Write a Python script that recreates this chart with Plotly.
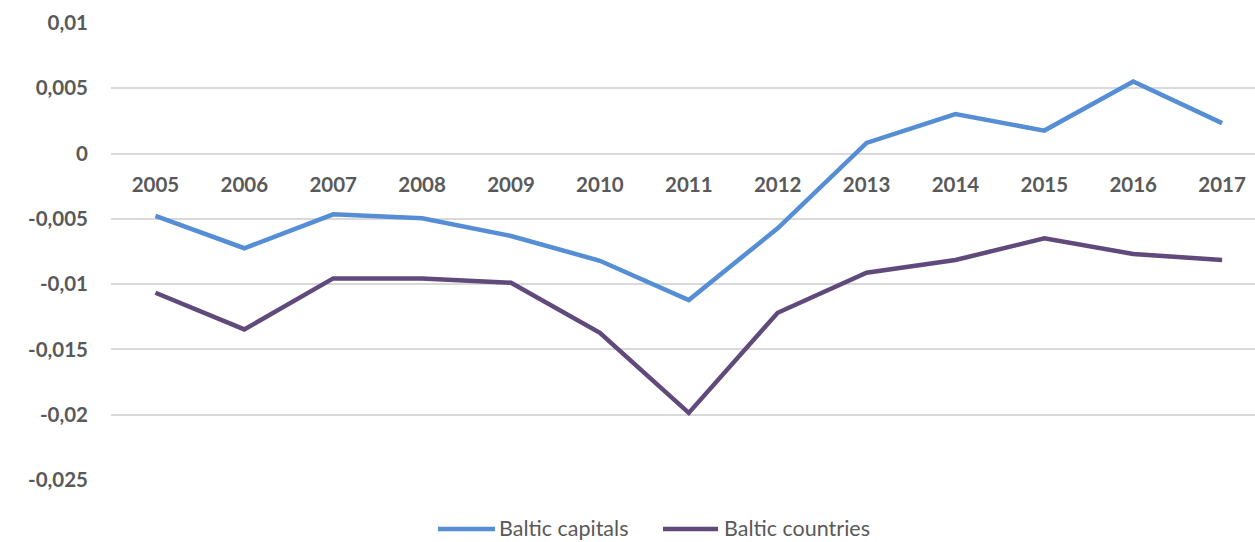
import plotly.graph_objects as go

years = ["2005", "2006", "2007", "2008", "2009", "2010", "2011", "2012", "2013", "2014", "2015", "2016", "2017"]
baltic_capitals = [-0.00478, -0.00725, -0.00465, -0.00495, -0.00631, -0.00821, -0.01122,
                   -0.00572, 0.00082, 0.00302, 0.00176, 0.00552, 0.00233]
baltic_countries = [-0.01066, -0.01347, -0.00956, -0.00956, -0.00989, -0.01373, -0.01986,
                    -0.01219, -0.00913, -0.00815, -0.00649, -0.00769, -0.00815]
y_tickvals = [0.01, 0.005, 0, -0.005, -0.01, -0.015, -0.02, -0.025]
y_ticktext = ["0,01", "0,005", "0", "-0,005", "-0,01", "-0,015", "-0,02", "-0,025"]
series_names = ["Baltic capitals", "Baltic countries"]
series_colors = ["#558ED5", "#604A7B"]

FONT = "Lato"
GREY = "#595959"
W, H = 1255, 542
ML, MR, MT, MB = 111, 0, 23, 62

fig = go.Figure()
for name, vals, col in zip(series_names, [baltic_capitals, baltic_countries], series_colors):
    fig.add_trace(go.Scatter(x=list(range(len(years))), y=vals, mode="lines", name=name,
                             showlegend=False, line=dict(color=col, width=4.5)))

# manual legend (pixel layout converted to paper coords)
pw, ph = W - ML - MR, H - MT - MB
def px2x(px):
    return (px - ML) / pw
def py2y(py):
    return (H - MB - py) / ph

LEG_Y = 528
legend_items = [(438, 495, 498), (663, 718, 723)]
for (l0, l1, tx), name, col in zip(legend_items, series_names, series_colors):
    fig.add_shape(type="line", xref="paper", yref="paper", x0=px2x(l0), x1=px2x(l1),
                  y0=py2y(LEG_Y + 1), y1=py2y(LEG_Y + 1), line=dict(color=col, width=4.5))
    fig.add_annotation(xref="paper", yref="paper", x=px2x(tx), y=py2y(LEG_Y), text=name,
                       showarrow=False, xanchor="left", yanchor="middle", borderpad=0,
                       font=dict(family=FONT, size=21.5, color=GREY))

fig.update_layout(
    width=W, height=H,
    margin=dict(l=ML, r=MR, t=MT, b=MB, pad=0),
    paper_bgcolor="white", plot_bgcolor="white",
    font=dict(family=FONT, color=GREY, size=20),
    hovermode=False,
    showlegend=False,
    xaxis=dict(range=[-0.5, 12.37], tickmode="array", tickvals=list(range(len(years))),
               ticktext=years, showgrid=False, zeroline=False, showline=False,
               ticks="", anchor="free", position=0.714286,
               tickfont=dict(family=FONT, size=20.5, color=GREY, weight="bold"),
               ticklabelstandoff=17),
    yaxis=dict(range=[-0.025, 0.01], tickmode="array", tickvals=y_tickvals,
               ticktext=y_ticktext, showgrid=True, gridcolor="#D9D9D9", gridwidth=1.5,
               zeroline=False, showline=False, ticks="",
               tickfont=dict(family=FONT, size=20.5, color=GREY, weight="bold"),
               ticklabelstandoff=22),
)

fig.write_html("out.html")
